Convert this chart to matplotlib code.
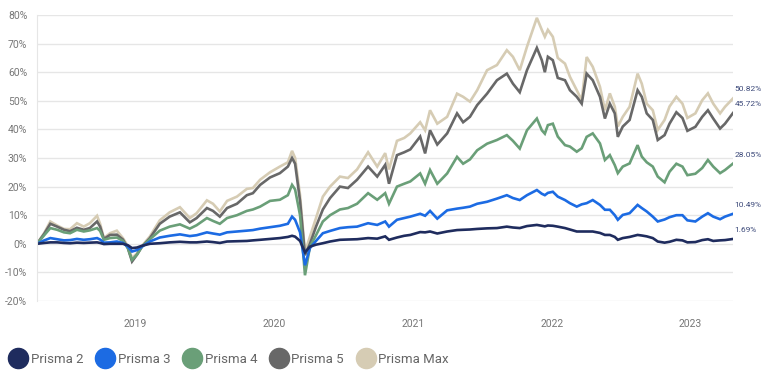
import numpy as np
import pandas as pd
import matplotlib
matplotlib.use("Agg")
import matplotlib.pyplot as plt
from matplotlib.lines import Line2D

plt.rcParams["font.family"] = ["Roboto", "DejaVu Sans"]

# sample dates (roughly every two weeks, denser near turns)
dates = [
    "2018-04-18", "2018-05-07", "2018-05-23", "2018-06-10", "2018-06-28", "2018-07-14",
    "2018-08-01", "2018-08-19", "2018-09-04", "2018-09-23", "2018-10-01", "2018-10-11",
    "2018-10-27", "2018-11-14", "2018-11-30", "2018-12-13", "2018-12-24", "2019-01-06",
    "2019-01-19", "2019-02-09", "2019-03-07", "2019-04-02", "2019-04-29", "2019-05-25",
    "2019-06-12", "2019-07-09", "2019-07-25", "2019-08-12", "2019-08-31", "2019-09-26",
    "2019-10-22", "2019-11-07", "2019-11-26", "2019-12-22", "2020-01-17", "2020-02-07",
    "2020-02-18", "2020-02-26", "2020-03-10", "2020-03-23", "2020-04-05", "2020-04-21",
    "2020-05-09", "2020-05-28", "2020-06-23", "2020-07-14", "2020-08-07", "2020-09-05",
    "2020-09-29", "2020-10-20", "2020-10-30", "2020-11-20", "2020-12-09", "2020-12-25",
    "2021-01-20", "2021-02-02", "2021-02-15", "2021-03-06", "2021-04-01", "2021-04-27",
    "2021-05-13", "2021-05-31", "2021-06-19", "2021-07-15", "2021-08-10", "2021-09-05",
    "2021-09-21", "2021-10-09", "2021-10-28", "2021-11-23", "2021-12-06", "2021-12-14",
    "2021-12-22", "2022-01-04", "2022-01-17", "2022-02-05", "2022-02-18", "2022-03-08",
    "2022-03-21", "2022-04-03", "2022-04-19", "2022-05-08", "2022-05-21", "2022-06-03",
    "2022-06-16", "2022-06-24", "2022-07-07", "2022-07-25", "2022-08-15", "2022-08-26",
    "2022-09-08", "2022-09-24", "2022-10-07", "2022-10-25", "2022-11-07", "2022-11-25",
    "2022-12-11", "2022-12-24", "2023-01-14", "2023-02-01", "2023-02-16", "2023-03-02",
    "2023-03-20", "2023-04-02", "2023-04-23",
]

prisma_2 = [
    0, 0.3, 0.5, 0.5, 0.3, 0.2, 0.4, 0.3, 0.4, 0.5, 0.3, -0.1,
    0.0, 0.0, 0.0, -0.5, -1.5, -1.3, -0.7, 0.0, 0.2, 0.5, 0.7, 0.5,
    0.5, 0.8, 0.6, 0.3, 0.8, 0.9, 1.0, 1.2, 1.4, 1.7, 2.0, 2.4,
    2.8, 2.5, 1.0, -3.0, -1.0, -0.3, 0.2, 0.8, 1.4, 1.5, 1.6, 2.0,
    1.8, 2.6, 1.4, 2.2, 2.8, 3.1, 4.1, 4.0, 4.3, 3.6, 4.3, 4.8,
    4.9, 5.0, 5.2, 5.4, 5.5, 6.0, 5.7, 5.5, 6.2, 6.6, 6.3, 6.1,
    6.4, 6.3, 6.0, 5.5, 5.0, 4.3, 4.3, 4.3, 4.3, 3.8, 3.1, 3.1,
    2.4, 1.4, 2.0, 2.4, 3.1, 2.9, 2.6, 2.0, 0.8, 0.4, 0.7, 1.4,
    1.2, 0.5, 0.6, 1.3, 1.6, 1.0, 1.2, 1.3, 1.69,
]

prisma_3 = [
    0, 1.2, 2.0, 1.6, 1.2, 1.3, 1.7, 1.4, 1.6, 2.0, 1.5, 0.4,
    0.5, 0.8, 0.3, -1.0, -2.7, -2.2, -1.0, 0.8, 2.2, 2.8, 3.3, 2.7,
    3.0, 4.0, 3.6, 3.2, 4.0, 4.3, 4.6, 4.8, 5.3, 5.8, 6.3, 7.0,
    9.5, 8.4, 4.0, -7.5, -1.5, 1.0, 3.7, 4.5, 5.5, 5.8, 6.0, 7.2,
    6.6, 7.8, 6.0, 8.4, 9.0, 9.5, 10.5, 9.8, 11.5, 8.8, 11.7, 12.3,
    12.6, 13.0, 14.0, 14.7, 15.8, 17.0, 16.0, 15.3, 17.0, 18.8, 17.5, 17.0,
    17.8, 18.2, 16.5, 15.3, 14.2, 13.0, 13.8, 14.2, 15.3, 13.6, 11.9, 11.9,
    10.0, 8.4, 10.1, 10.7, 13.6, 12.5, 11.3, 9.5, 7.8, 8.5, 9.3, 10.0,
    10.0, 8.2, 7.8, 9.5, 10.7, 9.5, 8.6, 9.5, 10.49,
]

prisma_4 = [
    0, 3.0, 5.5, 4.9, 4.0, 3.7, 4.9, 4.3, 4.7, 5.5, 4.5, 1.4,
    2.0, 2.2, 1.0, -1.5, -5.6, -3.8, -1.0, 1.6, 4.6, 6.0, 6.8, 5.3,
    6.5, 9.0, 8.0, 7.0, 9.0, 10.0, 11.5, 12.0, 13.0, 15.0, 15.4, 17.0,
    20.6, 19.0, 10.0, -11.0, -1.0, 3.0, 7.8, 10.0, 12.0, 12.5, 14.0, 17.7,
    15.4, 17.7, 14.0, 20.0, 21.0, 21.8, 24.6, 21.0, 25.8, 21.0, 24.6, 30.4,
    28.0, 29.5, 32.7, 35.0, 36.3, 38.0, 36.0, 33.3, 39.7, 43.8, 39.7, 38.5,
    41.5, 42.0, 37.5, 34.5, 34.0, 32.2, 33.4, 37.4, 38.6, 35.1, 29.3, 31.0,
    27.5, 24.7, 27.0, 28.1, 34.5, 30.5, 28.5, 27.0, 23.5, 21.5, 25.2, 28.0,
    27.0, 24.0, 24.5, 26.5, 29.3, 27.0, 24.7, 25.8, 28.05,
]

prisma_5 = [
    0, 3.5, 7.0, 6.0, 4.9, 4.4, 5.6, 4.9, 5.5, 7.8, 6.0, 1.7,
    3.1, 3.2, 1.5, -1.5, -6.2, -3.8, -1.0, 2.0, 7.0, 9.5, 11.0, 7.5,
    9.0, 12.5, 11.5, 9.5, 12.5, 14.0, 17.0, 17.7, 20.6, 23.2, 24.7, 27.0,
    30.0, 28.0, 15.0, -4.0, 0.0, 6.0, 12.0, 16.0, 20.0, 19.5, 22.4, 27.0,
    23.5, 27.6, 21.0, 31.0, 32.0, 33.0, 37.5, 31.6, 39.7, 34.7, 38.6, 45.6,
    42.5, 44.4, 48.5, 52.5, 57.2, 59.5, 56.0, 53.0, 60.7, 68.5, 64.2, 60.0,
    65.4, 64.2, 58.0, 57.2, 53.7, 51.4, 49.0, 59.5, 57.2, 51.4, 43.8, 49.0,
    45.6, 37.4, 41.0, 43.3, 53.7, 51.4, 45.6, 43.3, 36.3, 38.0, 42.0, 46.0,
    44.0, 39.5, 40.9, 44.4, 46.7, 43.8, 40.3, 42.0, 45.72,
]

prisma_max = [
    0, 3.8, 7.8, 6.4, 5.2, 5.1, 7.2, 6.0, 7.2, 9.8, 7.0, 2.0,
    3.7, 4.6, 2.0, -0.8, -5.0, -3.3, -0.8, 2.6, 8.2, 11.0, 12.8, 9.0,
    10.7, 15.2, 14.0, 11.3, 15.0, 16.5, 19.2, 19.5, 22.4, 25.0, 27.0, 28.5,
    32.5, 30.0, 17.0, -3.0, 2.5, 9.0, 16.5, 20.0, 23.5, 23.0, 26.0, 32.0,
    27.0, 31.7, 26.0, 36.0, 37.0, 38.6, 42.5, 39.7, 46.7, 42.0, 44.4, 52.5,
    51.4, 49.7, 53.7, 60.7, 62.5, 67.7, 65.4, 60.7, 68.9, 79.0, 74.8, 72.4,
    74.8, 72.4, 65.0, 63.0, 58.4, 53.7, 50.2, 65.3, 61.9, 54.9, 46.7, 52.6,
    47.9, 41.0, 44.4, 47.9, 59.5, 56.0, 49.0, 46.7, 39.8, 43.3, 48.0, 51.4,
    49.0, 44.0, 45.6, 50.2, 52.6, 49.0, 45.6, 47.9, 50.82,
]

names = ["Prisma 2", "Prisma 3", "Prisma 4", "Prisma 5", "Prisma Max"]
colors = ["#1f2c5e", "#1c6be3", "#6a9f78", "#686868", "#d6ccb4"]
y_ticks = [-20, -10, 0, 10, 20, 30, 40, 50, 60, 70, 80]
x_ticks = ["2019-01-01", "2020-01-01", "2021-01-01", "2022-01-01", "2023-01-01"]
x_labels = ["2019", "2020", "2021", "2022", "2023"]

t = pd.to_datetime(dates)
series = [prisma_2, prisma_3, prisma_4, prisma_5, prisma_max]

fig = plt.figure(figsize=(7.68, 3.74), dpi=100)
ax = fig.add_axes([37 / 768, 1 - 301 / 374, 696 / 768, 286 / 374])

# Max drawn first so the lower series sit on top
for vals, col in reversed(list(zip(series, colors))):
    ax.plot(t, vals, color=col, lw=1.9, solid_joinstyle="miter")

for vals in series:
    ax.annotate(f"{vals[-1]:.2f}%", (t[-1], vals[-1]), xytext=(1, 6.5),
                textcoords="offset points", ha="left", va="center",
                fontsize=6, color="#3d4a7a", annotation_clip=False)

ax.set_xlim(pd.Timestamp("2018-04-18"), pd.Timestamp("2023-04-23"))
ax.set_ylim(-20, 80)
ax.set_yticks(y_ticks)
ax.set_yticklabels([f"{v}%" for v in y_ticks])
ax.set_xticks(pd.to_datetime(x_ticks))
ax.set_xticklabels(x_labels)
ax.tick_params(axis="y", length=0, pad=7, labelsize=7.5, labelcolor="#777777")
ax.tick_params(axis="x", length=0, pad=13, labelsize=7.5, labelcolor="#777777")
ax.grid(axis="y", color="#e6e6e6", lw=1)
ax.set_axisbelow(True)
for side in ["top", "right", "bottom"]:
    ax.spines[side].set_visible(False)
ax.spines["left"].set_color("#e6e6e6")

handles = [Line2D([], [], marker="o", ls="", markersize=14.5, color=c) for c in colors]
leg = fig.legend(handles, names, loc="lower left", bbox_to_anchor=(0.0, 0.0),
                 ncol=5, frameon=False, fontsize=9.5, handletextpad=0.15,
                 columnspacing=0.85, borderaxespad=0.2, handlelength=1.6)
for txt in leg.get_texts():
    txt.set_color("#666666")

fig.savefig("out.png", dpi=100)
